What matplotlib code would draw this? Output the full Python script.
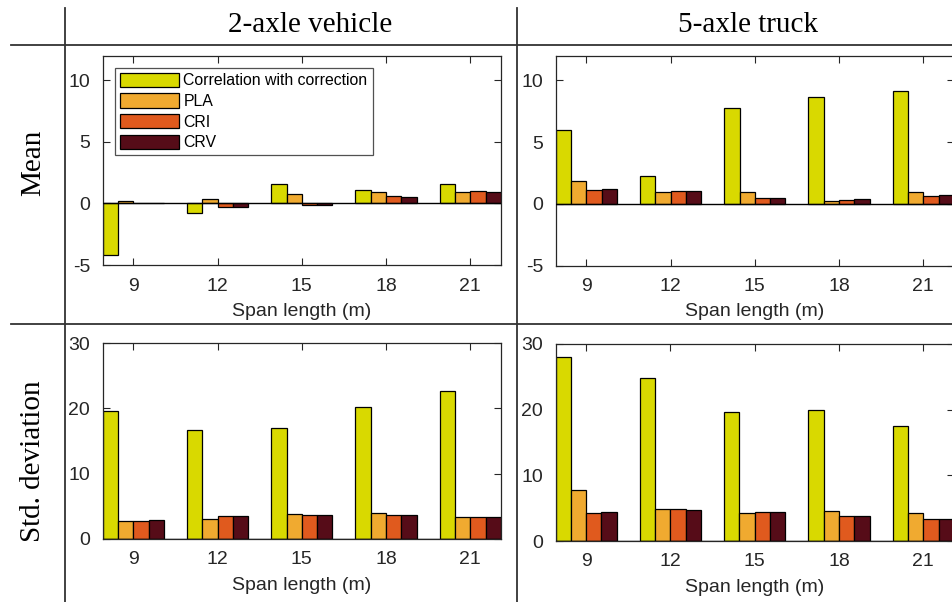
import numpy as np
import matplotlib
matplotlib.use("Agg")
import matplotlib.pyplot as plt
from matplotlib.lines import Line2D

spans = [9, 12, 15, 18, 21]
series = ["Correlation with correction", "PLA", "CRI", "CRV"]
colors = ["#d9d900", "#f0aa30", "#e05a1e", "#560c18"]

# Mean values, 2-axle vehicle
mean_2axle_cwc = [-4.2, -0.8, 1.6, 1.07, 1.56]
mean_2axle_pla = [0.2, 0.35, 0.75, 0.9, 0.96]
mean_2axle_cri = [0.05, -0.3, -0.1, 0.57, 1.0]
mean_2axle_crv = [0.05, -0.3, -0.1, 0.55, 0.96]

# Mean values, 5-axle truck
mean_5axle_cwc = [6.0, 2.23, 7.8, 8.66, 9.1]
mean_5axle_pla = [1.83, 0.98, 0.98, 0.25, 0.98]
mean_5axle_cri = [1.12, 1.0, 0.49, 0.33, 0.63]
mean_5axle_crv = [1.23, 1.03, 0.49, 0.35, 0.68]

# Standard deviations, 2-axle vehicle
std_2axle_cwc = [19.6, 16.7, 17.0, 20.2, 22.6]
std_2axle_pla = [2.66, 3.07, 3.74, 3.89, 3.38]
std_2axle_cri = [2.66, 3.48, 3.58, 3.64, 3.33]
std_2axle_crv = [2.87, 3.48, 3.69, 3.69, 3.33]

# Standard deviations, 5-axle truck
std_5axle_cwc = [28.0, 24.8, 19.7, 19.95, 17.56]
std_5axle_pla = [7.7, 4.87, 4.2, 4.5, 4.3]
std_5axle_cri = [4.3, 4.87, 4.4, 3.86, 3.35]
std_5axle_crv = [4.4, 4.77, 4.4, 3.86, 3.35]

W, H = 953, 602
fig = plt.figure(figsize=(W / 100, H / 100), dpi=100)
fig.patch.set_facecolor("white")

AX_COLOR = "#262626"
SANS = "Liberation Sans"
SERIF = "Liberation Serif"


def px_axes(left, top, right, bottom):
    return fig.add_axes([left / W, 1 - bottom / H, (right - left) / W, (bottom - top) / H])


def grouped_bars(ax, data, ylim, yticks, legend=False):
    n = len(data)
    group_w = min(0.8, n / (n + 1.5))
    bw = group_w / n
    x = np.arange(1, len(spans) + 1)
    handles = []
    for i, (vals, c) in enumerate(zip(data, colors)):
        offs = -group_w / 2 + bw * (i + 0.5)
        h = ax.bar(x + offs, vals, width=bw, color=c, edgecolor="black",
                   linewidth=0.9, zorder=2)
        handles.append(h)
    ax.axhline(0, color="black", linewidth=1.0, zorder=3)
    ax.set_xlim(1 - group_w / 2, len(spans) + group_w / 2)
    ax.set_ylim(*ylim)
    ax.set_xticks(x)
    ax.set_xticklabels([str(s) for s in spans])
    ax.set_yticks(yticks)
    ax.set_yticklabels([str(t) for t in yticks])
    ax.tick_params(direction="in", top=True, right=True, length=5, width=0.8,
                   colors=AX_COLOR, labelsize=14, pad=9)
    for lab in ax.get_xticklabels() + ax.get_yticklabels():
        lab.set_fontfamily(SANS)
    for sp in ax.spines.values():
        sp.set_color(AX_COLOR)
        sp.set_linewidth(0.9)
    ax.set_xlabel("Span length (m)", fontsize=14, family=SANS, color=AX_COLOR, labelpad=6)
    if legend:
        leg = ax.legend(handles, series, loc="upper left", bbox_to_anchor=(0.031, 0.943),
                        prop={"family": SANS, "size": 11.4}, frameon=True, fancybox=False,
                        edgecolor=AX_COLOR, handlelength=3.7, handleheight=1.0,
                        handletextpad=0.3, labelspacing=0.33, borderpad=0.32,
                        borderaxespad=0)
        leg.get_frame().set_linewidth(0.9)


ax1 = px_axes(102.7, 55.7, 501.0, 265.0)
grouped_bars(ax1, [mean_2axle_cwc, mean_2axle_pla, mean_2axle_cri, mean_2axle_crv],
             (-5, 12), [-5, 0, 5, 10], legend=True)

ax2 = px_axes(555.7, 55.7, 954.0, 265.5)
grouped_bars(ax2, [mean_5axle_cwc, mean_5axle_pla, mean_5axle_cri, mean_5axle_crv],
             (-5, 12), [-5, 0, 5, 10])

ax3 = px_axes(102.7, 343.3, 501.0, 538.7)
grouped_bars(ax3, [std_2axle_cwc, std_2axle_pla, std_2axle_cri, std_2axle_crv],
             (0, 30), [0, 10, 20, 30])

ax4 = px_axes(555.5, 344.0, 954.0, 541.0)
grouped_bars(ax4, [std_5axle_cwc, std_5axle_pla, std_5axle_cri, std_5axle_crv],
             (0, 30), [0, 10, 20, 30])

# Table frame around the panels
line_kw = dict(color="#333333", linewidth=1.3, transform=fig.transFigure)
fig.add_artist(Line2D([65 / W, 65 / W], [1 - 8 / H, 0], **line_kw))
fig.add_artist(Line2D([516.7 / W, 516.7 / W], [1 - 8 / H, 0], **line_kw))
fig.add_artist(Line2D([11 / W, 1], [1 - 44.5 / H, 1 - 44.5 / H], **line_kw))
fig.add_artist(Line2D([11 / W, 1], [1 - 324 / H, 1 - 324 / H], **line_kw))

# Column and row headings
head_kw = dict(family=SERIF, fontsize=21, color="black")
fig.text(310 / W, 1 - 25 / H, "2-axle vehicle", ha="center", va="center", **head_kw)
fig.text(748 / W, 1 - 25 / H, "5-axle truck", ha="center", va="center", **head_kw)
fig.text(33 / W, 1 - 163 / H, "Mean", ha="center", va="center", rotation=90, **head_kw)
fig.text(33 / W, 1 - 461 / H, "Std. deviation", ha="center", va="center", rotation=90, **head_kw)

fig.savefig("out.png", dpi=100, facecolor="white")
